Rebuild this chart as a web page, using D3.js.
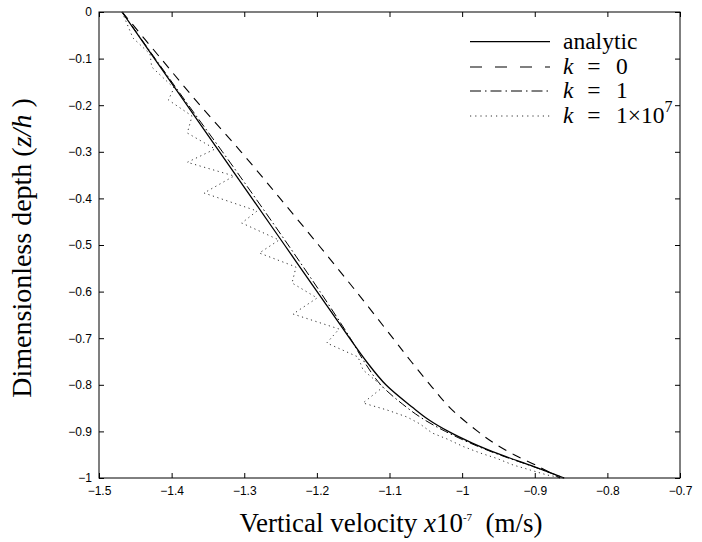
<!DOCTYPE html>
<html>
<head>
<meta charset="utf-8">
<script src="https://cdn.jsdelivr.net/npm/d3@7"></script>
<style>
  body { margin: 0; background: #fff; }
  svg { display: block; }
  .serif { font-family: "Liberation Serif", "Times New Roman", serif; fill: #000; }
</style>
</head>
<body>
<svg width="702" height="542"></svg>
<script>
// analytic solution
var analyticDepth = [0, -0.1, -0.2, -0.3, -0.4, -0.5, -0.6, -0.7, -0.75, -0.8, -0.85, -0.875, -0.9, -0.925, -0.95, -0.975, -1];
var analyticVel   = [-1.4683, -1.4236, -1.3788, -1.3340, -1.2893, -1.2445, -1.1997, -1.1550, -1.1318, -1.105, -1.067, -1.046, -1.019, -0.986, -0.947, -0.902, -0.8595];

// k = 0
var k0Depth = [0, -0.1, -0.2, -0.3, -0.4, -0.5, -0.6, -0.7, -0.75, -0.8, -0.85, -0.9, -0.925, -0.95, -0.975, -1];
var k0Vel   = [-1.468, -1.4147, -1.361, -1.3044, -1.2507, -1.1977, -1.1457, -1.0953, -1.0702, -1.044, -1.0163, -0.9785, -0.9561, -0.9284, -0.8953, -0.865];

// k = 1
var k1Depth = [0, -0.1, -0.2, -0.3, -0.4, -0.5, -0.6, -0.7, -0.75, -0.8, -0.85, -0.875, -0.9, -0.925, -0.95, -0.975, -1];
var k1Vel   = [-1.4683, -1.4226, -1.3768, -1.3300, -1.2843, -1.2395, -1.1957, -1.1540, -1.135, -1.112, -1.075, -1.052, -1.023, -0.989, -0.949, -0.903, -0.8595];

// k = 1e7 (oscillating)
var k7Depth = [0, -0.0558, -0.0901, -0.1180, -0.1631, -0.1888, -0.2232, -0.2597, -0.2940, -0.3225,
               -0.3519, -0.3884, -0.4270, -0.4528, -0.4893, -0.5172, -0.5472, -0.5815, -0.6137, -0.6481,
               -0.6803, -0.7103, -0.7403, -0.7682, -0.8047, -0.8390, -0.8541, -0.8691, -0.8841, -0.9034,
               -0.9163, -0.9324, -0.9463, -0.9582, -0.9721, -0.9828, -0.9936, -1];
var k7Vel   = [-1.4683, -1.4532, -1.4298, -1.4274, -1.3967, -1.4045, -1.3719, -1.3784, -1.3402, -1.3784,
               -1.3140, -1.3554, -1.2824, -1.3034, -1.2521, -1.2792, -1.2287, -1.2342, -1.1997, -1.2328,
               -1.1694, -1.1864, -1.1433, -1.1364, -1.1088, -1.1364, -1.1033, -1.0758, -1.0579, -1.0413,
               -1.0207, -0.9986, -0.9752, -0.9518, -0.9298, -0.9063, -0.8829, -0.8609];

var xTicks = [-1.5, -1.4, -1.3, -1.2, -1.1, -1, -0.9, -0.8, -0.7];
var yTicks = [0, -0.1, -0.2, -0.3, -0.4, -0.5, -0.6, -0.7, -0.8, -0.9, -1];

var series = [
  {name: "analytic", depth: analyticDepth, vel: analyticVel, dash: null, width: 1.3, color: "#000", smooth: true},
  {name: "k0", depth: k0Depth, vel: k0Vel, dash: "9,7", width: 1.1, color: "#000", smooth: true},
  {name: "k1", depth: k1Depth, vel: k1Vel, dash: "9,3,1.5,3", width: 1.0, color: "#000", smooth: true},
  {name: "k7", depth: k7Depth, vel: k7Vel, dash: "1.2,3.5", width: 1.0, color: "#333", smooth: false}
];

var svg = d3.select("svg");

var plotL = 99, plotR = 680, plotT = 12, plotB = 478;

var x = d3.scaleLinear().domain([-1.5, -0.7]).range([plotL, plotR]);
var y = d3.scaleLinear().domain([-1, 0]).range([plotB, plotT]);

var fmt = d3.format("");

svg.append("g")
    .attr("transform", "translate(0," + plotB + ")")
    .call(d3.axisBottom(x).tickValues(xTicks).tickSizeInner(-5).tickSizeOuter(0).tickPadding(8).tickFormat(fmt));
svg.append("g")
    .attr("transform", "translate(0," + plotT + ")")
    .call(d3.axisTop(x).tickValues(xTicks).tickSizeInner(-5).tickSizeOuter(0).tickFormat(""));
svg.append("g")
    .attr("transform", "translate(" + plotL + ",0)")
    .call(d3.axisLeft(y).tickValues(yTicks).tickSizeInner(-5).tickSizeOuter(0).tickPadding(7).tickFormat(fmt));
svg.append("g")
    .attr("transform", "translate(" + plotR + ",0)")
    .call(d3.axisRight(y).tickValues(yTicks).tickSizeInner(-5).tickSizeOuter(0).tickFormat(""));

svg.selectAll(".domain").remove();
svg.selectAll(".tick line").attr("stroke", "#000");
svg.selectAll(".tick text")
    .style("font-family", "'Liberation Sans', Arial, sans-serif")
    .style("font-size", "12px")
    .attr("fill", "#000");

svg.append("rect")
    .attr("x", plotL).attr("y", plotT)
    .attr("width", plotR - plotL).attr("height", plotB - plotT)
    .attr("fill", "none").attr("stroke", "#000").attr("stroke-width", 1);

var smoothLine = d3.line()
    .x(function(d){ return x(d[0]); })
    .y(function(d){ return y(d[1]); })
    .curve(d3.curveCatmullRom.alpha(0.5));

var rawLine = d3.line()
    .x(function(d){ return x(d[0]); })
    .y(function(d){ return y(d[1]); });

svg.selectAll(".curve")
  .data(series)
  .enter().append("path")
    .attr("class", "curve")
    .attr("fill", "none")
    .attr("stroke", function(d){ return d.color; })
    .attr("stroke-width", function(d){ return d.width; })
    .attr("stroke-dasharray", function(d){ return d.dash; })
    .attr("d", function(d){
      var pts = d.vel.map(function(v, i){ return [v, d.depth[i]]; });
      return d.smooth ? smoothLine(pts) : rawLine(pts);
    });

// legend
var legendRows = [41.7, 67, 91, 116];
var legendDash = [null, "12,13", "11,4,1.5,4", "1.2,4"];
var leg = svg.append("g");
series.forEach(function(s, i){
  leg.append("line")
    .attr("x1", 470).attr("x2", 550)
    .attr("y1", legendRows[i]).attr("y2", legendRows[i])
    .attr("stroke", s.color)
    .attr("stroke-width", s.width)
    .attr("stroke-dasharray", legendDash[i]);
});

var t0 = leg.append("text").attr("class", "serif").attr("x", 563).attr("y", legendRows[0] + 7).style("font-size", "23.5px");
t0.text("analytic");

function kLabel(row, val, sup){
  var t = leg.append("text").attr("class", "serif").attr("x", 563).attr("y", legendRows[row] + 7).style("font-size", "23.5px");
  t.append("tspan").style("font-style", "italic").text("k");
  t.append("tspan").text("\u2002\u200a=\u2002\u200a\u200a" + val);
  if (sup) {
    t.append("tspan").attr("dy", -11).style("font-size", "16px").text(sup);
  }
}
kLabel(1, "0");
kLabel(2, "1");
kLabel(3, "1\u00d710", "7");

// axis titles
var xt = svg.append("text").attr("class", "serif")
    .attr("x", 391).attr("y", 532)
    .attr("text-anchor", "middle")
    .style("font-size", "27px");
xt.append("tspan").text("Vertical velocity ");
xt.append("tspan").style("font-style", "italic").text("x");
xt.append("tspan").text("10");
xt.append("tspan").attr("dy", -11).style("font-size", "11px").text("-7");
xt.append("tspan").attr("dy", 11).text("\u2002(m/s)");

var yt = svg.append("text").attr("class", "serif")
    .attr("transform", "translate(31,248) rotate(-90)")
    .attr("text-anchor", "middle")
    .style("font-size", "28px");
yt.append("tspan").text("Dimensionless depth (");
yt.append("tspan").style("font-style", "italic").text("z/h");
yt.append("tspan").text(" )");
</script>
</body>
</html>
